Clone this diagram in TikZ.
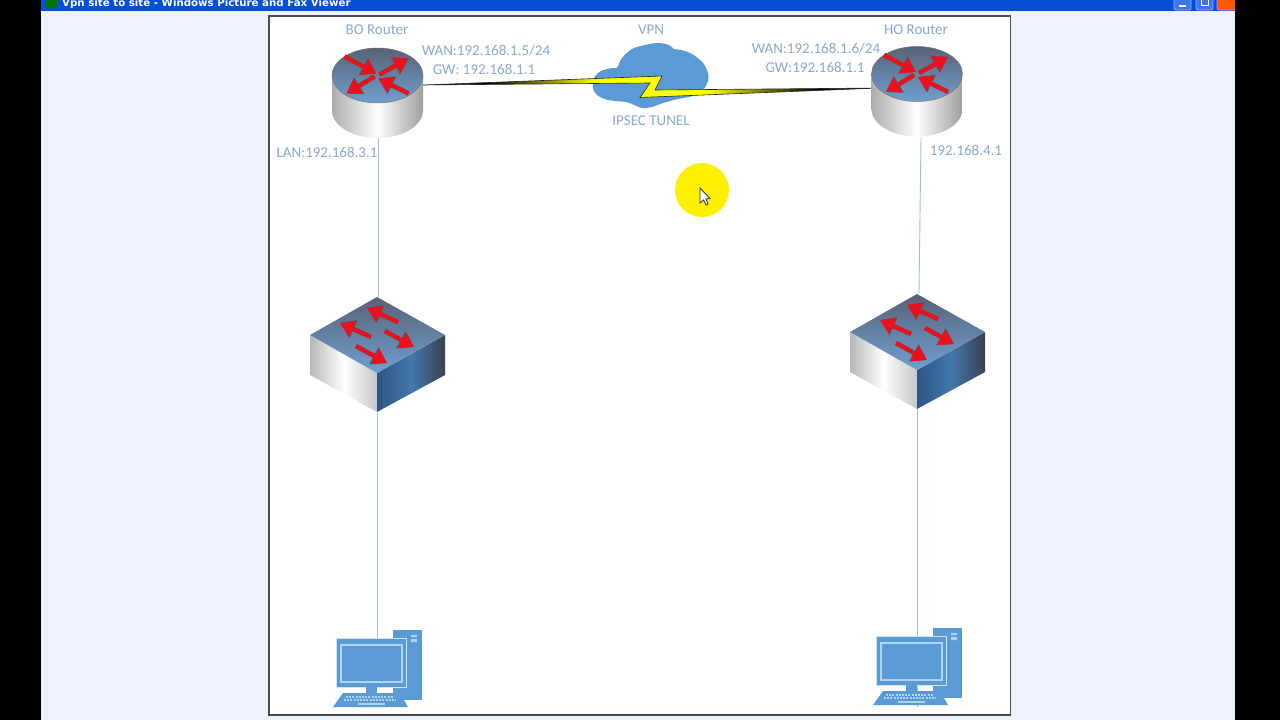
\documentclass[tikz,border=0pt]{standalone}
\usepackage{xcolor}
\usepackage{fontspec}
\setmainfont{Carlito}
\newfontfamily\titlefont{DejaVu Sans}
\usetikzlibrary{shapes,arrows.meta,positioning,calc}
\definecolor{winpale}{RGB}{238,242,252}
\definecolor{titleblue}{RGB}{4,78,216}
\definecolor{iptext}{RGB}{138,170,204}
\definecolor{officeblue}{RGB}{91,155,213}
\definecolor{officelight}{RGB}{175,212,242}
\definecolor{wireblue}{RGB}{165,190,215}
\definecolor{faceblue}{RGB}{112,160,208}
\definecolor{facedark}{RGB}{88,98,118}
\definecolor{arrowred}{RGB}{236,16,30}
\definecolor{marker}{RGB}{255,240,0}
\definecolor{sideleft}{RGB}{45,85,130}
\definecolor{sidemid}{RGB}{66,120,172}
\definecolor{sideright}{RGB}{58,64,80}
\definecolor{buttonblue}{RGB}{60,120,235}
\pgfdeclarehorizontalshading{boltshade}{100bp}{color(0bp)=(black); color(32bp)=(black); color(44bp)=(yellow); color(56bp)=(yellow); color(68bp)=(black); color(100bp)=(black)}

\begin{document}
\begin{tikzpicture}[
    x=1pt, y=-1pt,
    iplabel/.style={text=iptext, font=\fontsize{15}{17}\selectfont, inner sep=0pt},
    netbox/.style={rectangle, minimum width=#1, minimum height=#1, inner sep=0pt},
    wire/.style={draw=wireblue, line width=0.9pt},
    winbutton/.style={fill=#1, draw=white!65!blue, line width=0.8pt, rounded corners=2pt},
    redarrow/.style={draw=arrowred, line width=4pt, -{Triangle[length=14pt,width=17pt,fill=arrowred]}},
    darkarrow/.style={draw=black!65, line width=4.7pt, -{Triangle[length=15pt,width=18.5pt,fill=black!65]}},
    pics/routericon/.style={code={
        \shade[left color=black!32, right color=black!38, middle color=white]
            (-45.5,0) -- (-45.5,35) arc[start angle=180, end angle=360, x radius=45.5pt, y radius=27.5pt] -- (45.5,0) -- cycle;
        \shade[top color=facedark, bottom color=faceblue, draw=black!55, line width=0.5pt]
            (0,0) ellipse [x radius=45.5pt, y radius=27.5pt];
        \foreach \ax/\ay/\bx/\by in {-33/-19/-1/-2, 2/-1/31/-17, 31/18/1/3, -3/1/-31/18} {
            \draw[darkarrow] (\ax,\ay) -- (\bx,\by);
            \draw[redarrow] (\ax,\ay) -- (\bx,\by);
        }
    }},
    pics/switchicon/.style={code={
        \shade[left color=black!28, right color=black!22, middle color=white]
            (-67,0) -- (0,38) -- (0,77) -- (-67,40) -- cycle;
        \shade[left color=sideleft, right color=sideright, middle color=sidemid]
            (0,38) -- (68,0) -- (68,40) -- (0,77) -- cycle;
        \shade[top color=facedark, bottom color=faceblue]
            (0,-38) -- (68,0) -- (0,38) -- (-67,0) -- cycle;
        \foreach \ax/\ay/\bx/\by in {21/-13/-10/-27, -6/2/-37/-12, 8/-4/37/12, -21/11/10/28} {
            \draw[darkarrow] (\ax,\ay) -- (\bx,\by);
            \draw[redarrow] (\ax,\ay) -- (\bx,\by);
        }
    }},
    pics/pcicon/.style={code={
        % tower
        \fill[officeblue] (14,-38) rectangle (43,32);
        \fill[officelight] (32,-33) rectangle (38,-31) (32,-29) rectangle (38,-26);
        % monitor
        \fill[officelight!60!white] (-43,-30) rectangle (28,20);
        \fill[officeblue] (-42,-29) rectangle (27,19);
        \draw[officelight, line width=1.2pt] (-38,-23) rectangle (23,14);
        \fill[officeblue] (-13,19) rectangle (-2,25);
        % keyboard
        \fill[officeblue] (-36,25) -- (21,25) -- (29,39) -- (-46,39) -- cycle;
        \foreach \rowy/\rowl/\rowr in {29/-33/15, 32/-35/17} {
            \draw[officelight, line width=1.6pt, dash pattern=on 2pt off 1.2pt] (\rowl,\rowy) -- (\rowr,\rowy);
        }
        \draw[officelight, line width=1.8pt] (-21,36) -- (6,36);
    }}
]

% Window
\fill[black] (0,0) rectangle (1280,720);
\fill[winpale] (41,0) rectangle (1235,720);
\fill[titleblue] (41,0) rectangle (1235,11);
\useasboundingbox (0,0) rectangle (1280,720);

% Title bar
\begin{scope}
\clip (41,0) rectangle (1235,11);
\fill[green!45!black] (45,0) rectangle (57,8);
\node[anchor=base west, inner sep=0pt, text=white, font=\titlefont\bfseries\fontsize{10.25}{12}\selectfont] (titletext) at (62,6.5) {Vpn site to site - Windows Picture and Fax Viewer};
\path[winbutton=buttonblue] (1174,-4) rectangle (1191,10);
\path[winbutton=buttonblue] (1196,-4) rectangle (1213,10);
\path[winbutton=orange!70!red] (1217,-4) rectangle (1237,10);
\fill[white] (1179,4.5) rectangle (1186,6.5);
\draw[white, line width=1pt] (1201,-1) rectangle (1208,5);
\end{scope}

% Page
\fill[white, draw=black!70, line width=1.1pt] (269,16) rectangle (1010.5,715);

% Marker
\fill[marker] (702,190) circle [radius=27pt];
\fill[white, draw=black!75, line width=0.9pt] (700,188) -- (700,203) -- (703.5,200) -- (706,205) -- (708,204) -- (706,199) -- (710,198.5) -- cycle;

% Devices
\node[netbox=90pt] (borouter) at (378,93) {};
\node[netbox=90pt] (horouter) at (918,92) {};
\node[netbox=115pt] (boswitch) at (378,355) {};
\node[netbox=115pt] (hoswitch) at (918,351) {};
\node[netbox=80pt] (bopc) at (377,680) {};
\node[netbox=80pt] (hopc) at (917,668) {};
\coordinate (bowan) at (423,85);
\coordinate (howan) at (880,88);
\coordinate (boltup) at (662,76);
\coordinate (boltin) at (655,90);
\coordinate (boltdown) at (640,97.5);
\coordinate (boltout) at (650,83);

% Cloud
\fill[officeblue] plot [smooth cycle, tension=0.55] coordinates {(593,88) (594,78) (601,71) (612,68) (617,67.5) (622,58) (632,49) (645,45) (658,43) (669,45) (674,49) (681,50) (692,54) (703,63) (708,73) (708,81) (703,90) (693,96) (678,99) (663,103) (652,107) (642,108) (632,104) (626,102) (608,100) (597,95)};

% Links
\draw[wire] (borouter.south) -- (boswitch.north);
\draw[wire] ([xshift=-1pt]boswitch.south) -- (bopc.north);
\draw[wire] ([xshift=3pt]horouter.south) -- ([xshift=1pt]hoswitch.north);
\draw[wire] ([xshift=-1pt]hoswitch.south) -- ([yshift=-39pt]hopc.center);
\shade[shading=boltshade, draw=black!85, line width=0.6pt, line join=miter]
    (bowan) -- (boltup) -- (boltin) -- (howan) -- (boltdown) -- (boltout) -- cycle;

% Icons
\pic at (377.5,75.5) {routericon};
\pic at (917,74) {routericon};
\pic at (377,335) {switchicon};
\pic at (917,332) {switchicon};
\pic at (379,668) {pcicon};
\pic at (919,666) {pcicon};

% Labels
\node[iplabel] (bolabel) at (377,30) {BO Router};
\node[iplabel] (bowanlabel) at (486,51) {WAN:192.168.1.5/24};
\node[iplabel] (bogwlabel) at (484,69) {GW: 192.168.1.1};
\node[iplabel] (bolanlabel) at (327,152) {LAN:192.168.3.1};
\node[iplabel] (vpnlabel) at (651,30) {VPN};
\node[iplabel] (tunellabel) at (651,121) {IPSEC TUNEL};
\node[iplabel] (holabel) at (916,30) {HO Router};
\node[iplabel] (howanlabel) at (816,49) {WAN:192.168.1.6/24};
\node[iplabel] (hogwlabel) at (815,67) {GW:192.168.1.1};
\node[iplabel] (holanlabel) at (966,150) {192.168.4.1};

\end{tikzpicture}
\end{document}
